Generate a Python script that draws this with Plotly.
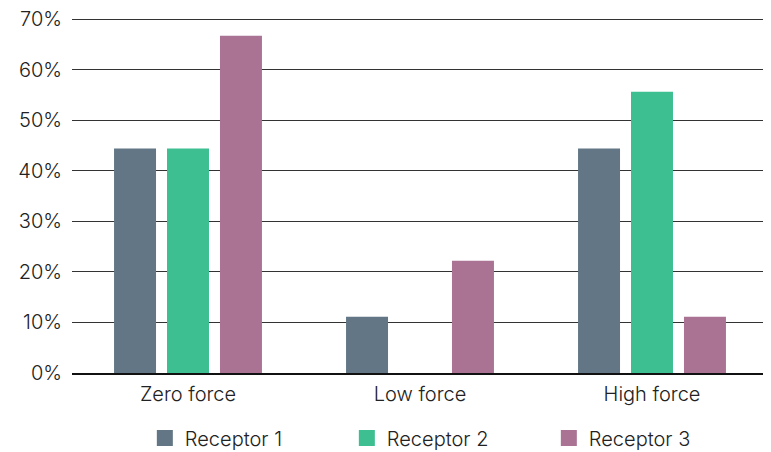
import plotly.graph_objects as go

categories = ["Zero force", "Low force", "High force"]
series_names = ["Receptor 1", "Receptor 2", "Receptor 3"]
receptor1 = [44.4, 11.1, 44.4]
receptor2 = [44.4, 0.0, 55.6]
receptor3 = [66.7, 22.2, 11.1]
tick_values = [0, 10, 20, 30, 40, 50, 60, 70]
tick_labels = ["0%", "10%", "20%", "30%", "40%", "50%", "60%", "70%"]
colors = ["#627686", "#3dbf91", "#aa7393"]

fnt = dict(family="Inter, Roboto, sans-serif", size=20, color="#222222", weight=300)

fig = go.Figure()
for name, vals, c in zip(series_names, [receptor1, receptor2, receptor3], colors):
    fig.add_trace(go.Bar(x=categories, y=vals, name=name, marker_color=c,
                         marker_line_width=0, showlegend=False))
for name, c in zip(series_names, colors):
    fig.add_trace(go.Scatter(x=[None], y=[None], mode="markers", name=name,
                             marker=dict(symbol="square", size=16, color=c)))

fig.update_layout(
    width=763, height=444,
    margin=dict(l=64, r=3, t=10, b=79, autoexpand=False),
    paper_bgcolor="white", plot_bgcolor="white",
    barmode="group", bargap=0.315, bargroupgap=0.2075,
    font=fnt,
    legend=dict(orientation="h", x=0.54, xanchor="center", y=-0.183, yanchor="middle",
                font=fnt, entrywidth=157, itemwidth=30),
    xaxis=dict(showline=True, linecolor="#111111", linewidth=1.5, ticks="",
               showgrid=False, tickfont=fnt, ticklabelstandoff=2),
    yaxis=dict(range=[0, 70.2], tickmode="array", tickvals=tick_values,
               ticktext=tick_labels, showgrid=True, ticklabeloverflow="allow",
               gridcolor="#333333", gridwidth=1, zeroline=False, ticks="",
               showline=False, tickfont=fnt, ticklabelstandoff=9),
)
fig.write_html("out.html")
